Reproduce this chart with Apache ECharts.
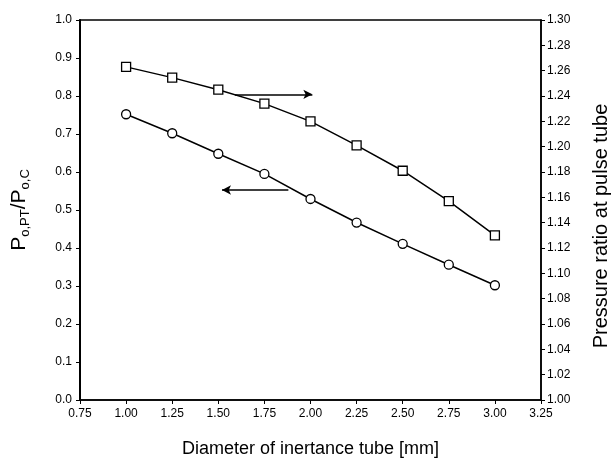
<!DOCTYPE html>
<html>
<head>
<meta charset="utf-8">
<script src="https://cdn.jsdelivr.net/npm/echarts@6/dist/echarts.min.js"></script>
<style>
  html, body { margin: 0; padding: 0; background: #fff; }
  #chart { width: 611px; height: 465px; }
</style>
</head>
<body>
<div id="chart"></div>
<script>
// inertance tube diameter [mm]
var diameters = [1.00, 1.25, 1.50, 1.75, 2.00, 2.25, 2.50, 2.75, 3.00];
// Po,PT / Po,C  (left axis, circles)
var ampRatio = [0.752, 0.702, 0.648, 0.595, 0.529, 0.467, 0.411, 0.356, 0.302];
// pressure ratio at pulse tube (right axis, squares)
var pulseRatio = [1.263, 1.2545, 1.245, 1.234, 1.220, 1.201, 1.181, 1.157, 1.130];

// annotation arrows [x0, y0] -> [x1, y1] in data units
var arrowRight = [[1.59, 1.2413], [2.01, 1.2413]];
var arrowLeft = [[1.88, 0.5526], [1.52, 0.5526]];

function pairs(xs, ys) {
    return xs.map(function (x, i) { return [x, ys[i]]; });
}

var font = 'Liberation Sans, Arial, sans-serif';
var myChart = echarts.init(document.getElementById('chart'));

var option = {
    backgroundColor: '#ffffff',
    animation: false,
    grid: {
        left: 80, right: 70, top: 20, bottom: 65,
        outerBoundsMode: 'none',
        containLabel: false,
        show: true,
        borderColor: '#000',
        borderWidth: 1.5
    },
    xAxis: {
        type: 'value',
        min: 0.75, max: 3.25, interval: 0.25,
        name: 'Diameter of inertance tube [mm]',
        nameLocation: 'middle',
        nameGap: 40,
        nameTextStyle: { fontFamily: font, fontSize: 18, color: '#000' },
        axisLine: { lineStyle: { color: '#000', width: 1.5 } },
        axisTick: { length: 4, lineStyle: { color: '#000' } },
        axisLabel: {
            fontFamily: font, fontSize: 12, color: '#000', margin: 8,
            formatter: function (v) { return v.toFixed(2); }
        },
        splitLine: { show: false }
    },
    yAxis: [{
        type: 'value',
        min: 0, max: 1, interval: 0.1,
        position: 'left',
        name: '{a|P}{s|o,PT}{a|/P}{s|o,C}',
        nameLocation: 'middle',
        nameGap: 48,
        nameTextStyle: {
            rich: {
                a: { fontFamily: font, fontSize: 21, color: '#000' },
                s: { fontFamily: font, fontSize: 13, color: '#000', verticalAlign: 'bottom', padding: [12, 0, 0, 0] }
            }
        },
        axisLine: { show: true, lineStyle: { color: '#000', width: 2 } },
        axisTick: { length: 4, lineStyle: { color: '#000' } },
        axisLabel: {
            fontFamily: font, fontSize: 12, color: '#000', margin: 8,
            formatter: function (v) { return v.toFixed(1); }
        },
        splitLine: { show: false }
    }, {
        type: 'value',
        min: 1.0, max: 1.3, interval: 0.02,
        position: 'right',
        name: 'Pressure ratio at pulse tube',
        nameLocation: 'middle',
        nameGap: 50,
        nameTextStyle: { fontFamily: font, fontSize: 20, color: '#000', padding: [0, 32, 0, 0] },
        axisLine: { show: true, lineStyle: { color: '#000', width: 1.5 } },
        axisTick: { length: 4, lineStyle: { color: '#000' } },
        axisLabel: {
            fontFamily: font, fontSize: 12, color: '#000', margin: 6,
            formatter: function (v) { return v.toFixed(2); }
        },
        splitLine: { show: false }
    }],
    series: [{
        name: 'Po,PT/Po,C',
        type: 'line',
        yAxisIndex: 0,
        data: pairs(diameters, ampRatio),
        symbol: 'circle',
        symbolSize: 9,
        itemStyle: { color: '#fff', borderColor: '#000', borderWidth: 1.3 },
        lineStyle: { color: '#000', width: 1.5 },
        markLine: {
            silent: true,
            symbol: ['none', 'arrow'],
            symbolSize: [7, 9],
            label: { show: false },
            lineStyle: { color: '#000', width: 1.5, type: 'solid' },
            data: [[{ coord: arrowLeft[0] }, { coord: arrowLeft[1] }]]
        }
    }, {
        name: 'Pressure ratio',
        type: 'line',
        yAxisIndex: 1,
        data: pairs(diameters, pulseRatio),
        symbol: 'rect',
        symbolSize: 9,
        itemStyle: { color: '#fff', borderColor: '#000', borderWidth: 1.3 },
        lineStyle: { color: '#000', width: 1.5 },
        markLine: {
            silent: true,
            symbol: ['none', 'arrow'],
            symbolSize: [7, 9],
            label: { show: false },
            lineStyle: { color: '#000', width: 1.5, type: 'solid' },
            data: [[{ coord: arrowRight[0] }, { coord: arrowRight[1] }]]
        }
    }]
};
myChart.setOption(option);
</script>
</body>
</html>
